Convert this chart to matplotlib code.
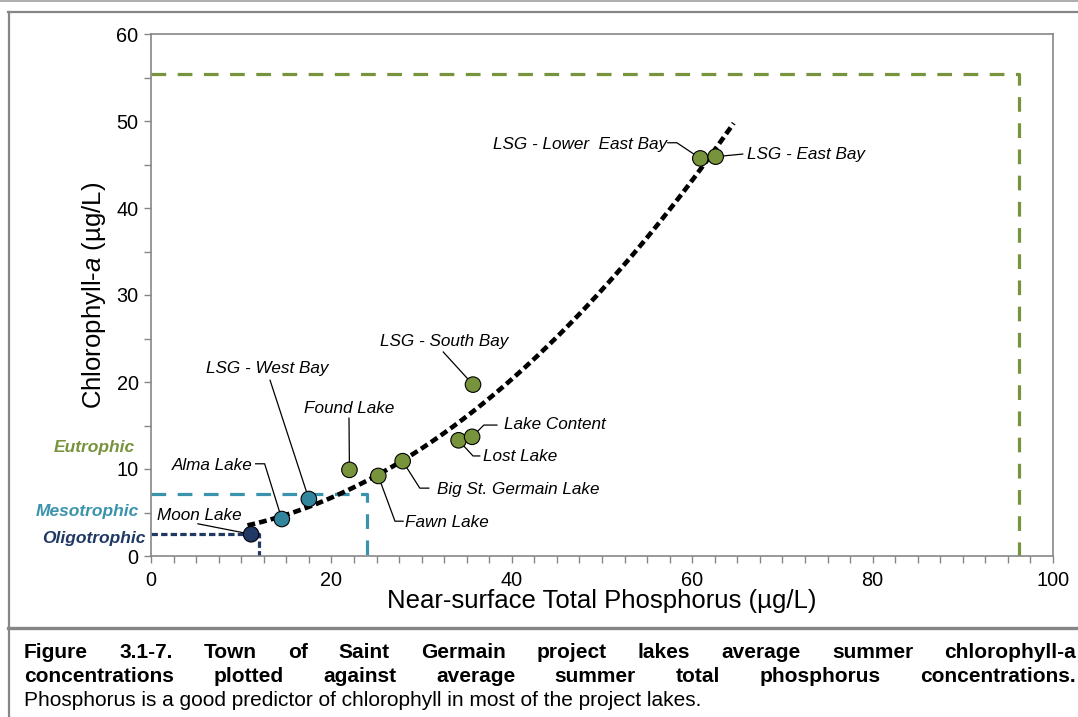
import matplotlib
matplotlib.use("Agg")
import matplotlib.pyplot as plt
from matplotlib.lines import Line2D
import numpy as np

plt.rcParams["font.family"] = ["Liberation Sans", "DejaVu Sans"]
plt.rcParams["mathtext.fontset"] = "custom"
plt.rcParams["mathtext.it"] = "Liberation Sans:italic"
plt.rcParams["mathtext.rm"] = "Liberation Sans"

# ----------------------------------------------------------------------
# data
# ----------------------------------------------------------------------
lakes = ["Moon Lake", "Alma Lake", "LSG - West Bay", "Found Lake", "Fawn Lake",
         "Big St. Germain Lake", "Lost Lake", "Lake Content", "LSG - South Bay",
         "LSG - Lower  East Bay", "LSG - East Bay"]
tp = np.array([11.1, 14.5, 17.5, 22.0, 25.2, 27.9, 34.1, 35.6, 35.7, 60.9, 62.6])
chl = np.array([2.5, 4.25, 6.55, 9.9, 9.2, 10.9, 13.3, 13.7, 19.7, 45.7, 45.9])
trophic = ["oligo", "meso", "meso", "eu", "eu", "eu", "eu", "eu", "eu", "eu", "eu"]

# trophic state boundaries (TP, Chl-a)
states = ["oligo", "meso", "eu"]
state_names = ["Oligotrophic", "Mesotrophic", "Eutrophic"]
state_tp = [12.0, 24.0, 96.2]
state_chl = [2.55, 7.1, 55.4]

COLORS = {"oligo": "#1F3864", "meso": "#31859C", "eu": "#77933C"}
LINE_COLORS = {"oligo": "#1F3864", "meso": "#3A93AC", "eu": "#77933C"}
GRID = "#868686"

# label placement: (text x, text y, ha, leader path)
LABELS = {
    "Moon Lake": (5.4, 4.6, "center", [(5.2, 3.7)]),
    "Alma Lake": (6.8, 10.45, "center", [(12.6, 10.6), (11.6, 10.6)]),
    "LSG - West Bay": (12.9, 21.6, "center", [(13.2, 20.2)]),
    "Found Lake": (21.95, 17.0, "center", [(21.95, 15.85)]),
    "Fawn Lake": (28.2, 3.8, "left", [(27.05, 4.0), (27.95, 4.0)]),
    "Big St. Germain Lake": (31.7, 7.6, "left", [(29.8, 7.8), (30.8, 7.8)]),
    "Lost Lake": (36.8, 11.4, "left", [(35.7, 11.5), (36.45, 11.5)]),
    "Lake Content": (39.1, 15.1, "left", [(36.9, 15.05), (38.35, 15.05)]),
    "LSG - South Bay": (32.5, 24.7, "center", [(32.4, 23.45)]),
    "LSG - Lower  East Bay": (57.2, 47.3, "right", [(58.3, 47.5), (57.3, 47.5)]),
    "LSG - East Bay": (66.1, 46.1, "left", [(65.6, 46.2)]),
}
STATE_TEXT = {"oligo": (-0.65, 2.0), "meso": (-1.3, 5.1), "eu": (-1.75, 12.5)}

W, H = 1078, 717
fig = plt.figure(figsize=(W / 100, H / 100), dpi=100)
ax = fig.add_axes([151 / W, 1 - 556 / H, 902 / W, 522 / H])

# trophic boundary boxes
dash = {"oligo": (2.0, 1.0), "meso": (4.6, 3.6), "eu": (4.6, 3.6)}
for s, x0, y0 in zip(states, state_tp, state_chl):
    ax.plot([0, x0, x0], [y0, y0, 0], color=LINE_COLORS[s], lw=2.3,
            dashes=dash[s], dash_capstyle="butt", zorder=2)

# polynomial (2nd order) trendline fitted to the lakes
coef = np.polyfit(tp, chl, 2)
xf = np.linspace(tp.min() - 0.4, tp.max() + 2, 200)
ax.plot(xf, np.polyval(coef, xf), color="black", lw=3.3,
        dashes=(1.7, 0.9), zorder=4)

# leader lines + labels
for name, x, y in zip(lakes, tp, chl):
    tx, ty, ha, path = LABELS[name]
    px = [x] + [p[0] for p in path]
    py = [y] + [p[1] for p in path]
    ax.plot(px, py, color="black", lw=0.9, zorder=3)
    ax.text(tx, ty, name, ha=ha, va="center", style="italic",
            fontsize=12.3, zorder=6)

ax.scatter(tp, chl, s=125, c=[COLORS[t] for t in trophic],
           edgecolors="black", linewidths=0.8, zorder=5)

# trophic state labels outside the axes
for s, name in zip(states, state_names):
    tx, ty = STATE_TEXT[s]
    ax.text(tx, ty, name, ha="right", va="center", color=LINE_COLORS[s],
            fontsize=12.5, fontweight="bold", style="italic", clip_on=False)

ax.set_xlim(0, 100)
ax.set_ylim(0, 60)
ax.set_xticks(np.arange(0, 101, 20))
ax.set_xticks(np.arange(0, 101, 2.5), minor=True)
ax.set_yticks(np.arange(0, 61, 10))
ax.set_yticks(np.arange(0, 61, 5), minor=True)
for sp in ax.spines.values():
    sp.set_color(GRID)
    sp.set_linewidth(1.2)
ax.tick_params(which="both", direction="out", length=5, color=GRID,
               width=1.0, labelsize=14.3, pad=4)
ax.tick_params(axis="x", pad=6)
ax.set_xlabel("Near-surface Total Phosphorus (µg/L)", fontsize=18.5, labelpad=-1)
ax.set_ylabel(r"Chlorophyll-$\it{a}$ (µg/L)", fontsize=18.5, labelpad=6)

# frame lines around chart and caption
def hline(y, x0, x1, lw, c=GRID):
    fig.add_artist(Line2D([x0 / W, x1 / W], [1 - y / H, 1 - y / H],
                          color=c, lw=lw))

def vline(x, y0, y1, lw, c=GRID):
    fig.add_artist(Line2D([x / W, x / W], [1 - y0 / H, 1 - y1 / H],
                          color=c, lw=lw))

hline(1, 0, W, 1.2, "#A0A0A0")
hline(12, 8, W, 1.6)
hline(628, 8, W, 2.4)
vline(8.5, 12, H, 1.6)

# caption, first two lines justified
fig.canvas.draw()
renderer = fig.canvas.get_renderer()
x_left = 24
cap_size = 15
fig.text(x_left / W, 1 - 701 / H,
         "Phosphorus is a good predictor of chlorophyll in most of the project lakes.",
         ha="left", va="center", fontsize=cap_size)

cap_lines = [
    (["Figure", "3.1-7.", "Town", "of", "Saint", "Germain", "project", "lakes",
      "average", "summer", "chlorophyll-a"], 653, 1076),
    (["concentrations", "plotted", "against", "average", "summer", "total",
      "phosphorus", "concentrations."], 677, 1076),
]
for words, y, x_right in cap_lines:
    texts = [fig.text(0, 1 - y / H, w, ha="left", va="center",
                      fontsize=cap_size, fontweight="bold") for w in words]
    widths = [t.get_window_extent(renderer).width for t in texts]
    gap = (x_right - x_left - sum(widths)) / (len(words) - 1)
    x = x_left
    for t, w in zip(texts, widths):
        t.set_x(x / W)
        x += w + gap

fig.savefig("out.png", dpi=100)
